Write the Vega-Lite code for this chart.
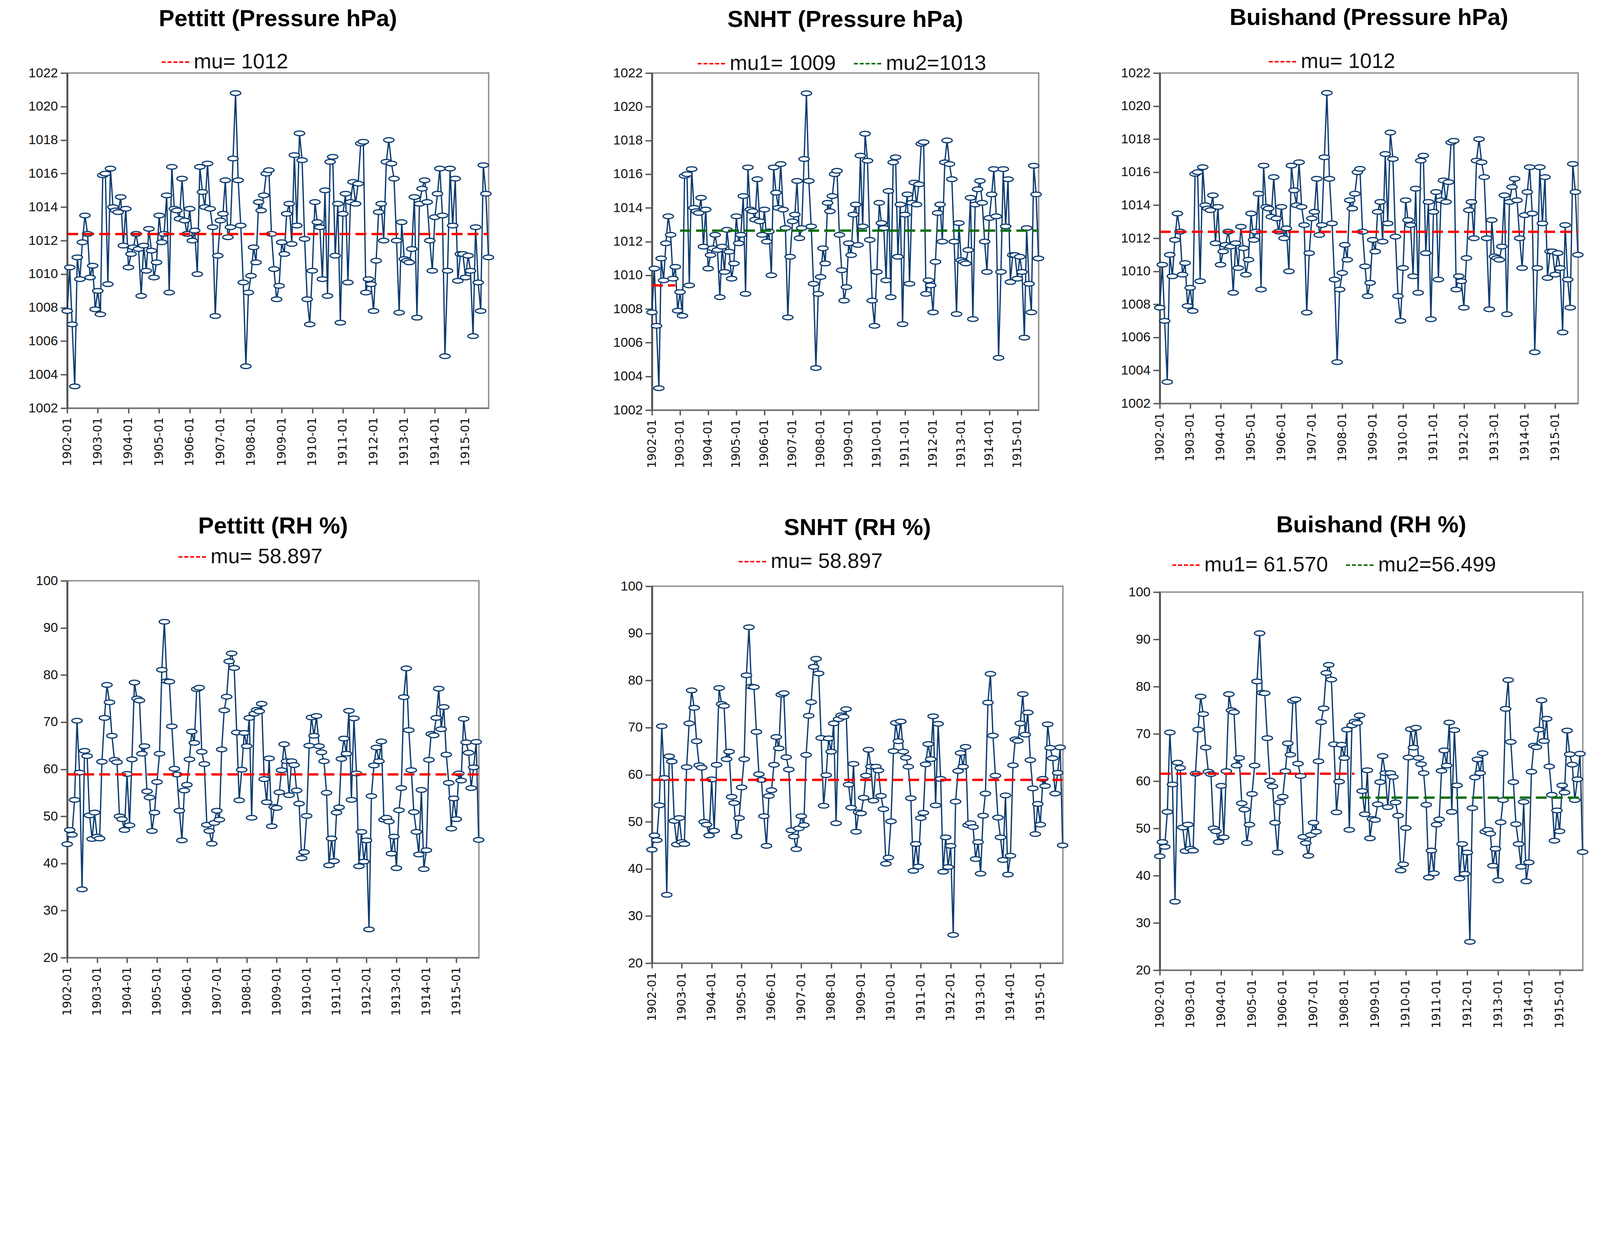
{
"$schema": "https://vega.github.io/schema/vega-lite/v6.json",
"background": "white",
"padding": {"left": 70, "top": 14, "right": 10, "bottom": 5},
"config": {
  "view": {"stroke": "#9a9a9a", "strokeWidth": 4},
  "title": {"font": "Liberation Sans", "fontSize": 60, "fontWeight": "bold", "color": "#000000", "anchor": "middle", "frame": "group"},
  "axisX": {"title": null, "format": "%Y-%m", "formatType": "utc", "tickCount": {"interval": "year", "step": 1}, "labelAngle": -90, "labelAlign": "right", "labelBaseline": "middle", "labelFont": "DejaVu Sans", "labelFontSize": 30, "labelPadding": 10, "labelOverlap": false, "labelFlush": false, "tickSize": 13, "tickWidth": 3.5, "tickColor": "#555555", "domainColor": "#707070", "domainWidth": 3.5, "grid": false, "labelColor": "#111111"},
  "axisY": {"title": null, "format": "d", "labelFont": "Liberation Sans", "labelFontSize": 34, "labelPadding": 7, "tickSize": 17, "tickWidth": 3.5, "tickColor": "#555555", "domainColor": "#555555", "domainWidth": 5, "grid": false, "labelColor": "#111111"},
  "legend": {"orient": "none", "direction": "horizontal", "symbolType": "stroke", "symbolStrokeWidth": 4, "symbolSize": 4900, "labelFont": "Liberation Sans", "labelFontSize": 54, "labelLimit": 3000, "columnPadding": 38, "labelOffset": 10, "labelColor": "#111111"}
},
"datasets": {
  "pres": [
    {"d":"1902-01","v":1007.8},{"d":"1902-02","v":1010.4},{"d":"1902-03","v":1007.0},{"d":"1902-04","v":1003.3},{"d":"1902-05","v":1011.0},{"d":"1902-06","v":1009.7},{"d":"1902-07","v":1011.9},{"d":"1902-08","v":1013.5},{"d":"1902-09","v":1012.4},{"d":"1902-10","v":1009.8},{"d":"1902-11","v":1010.5},{"d":"1902-12","v":1007.9},
    {"d":"1903-01","v":1009.0},{"d":"1903-02","v":1007.6},{"d":"1903-03","v":1015.9},{"d":"1903-04","v":1016.0},{"d":"1903-05","v":1009.4},{"d":"1903-06","v":1016.3},{"d":"1903-07","v":1014.0},{"d":"1903-08","v":1013.8},{"d":"1903-09","v":1013.7},{"d":"1903-10","v":1014.6},{"d":"1903-11","v":1011.7},{"d":"1903-12","v":1013.9},
    {"d":"1904-01","v":1010.4},{"d":"1904-02","v":1011.2},{"d":"1904-03","v":1011.6},{"d":"1904-04","v":1012.4},{"d":"1904-05","v":1011.5},{"d":"1904-06","v":1008.7},{"d":"1904-07","v":1011.7},{"d":"1904-08","v":1010.2},{"d":"1904-09","v":1012.7},{"d":"1904-10","v":1011.4},{"d":"1904-11","v":1009.8},{"d":"1904-12","v":1010.7},
    {"d":"1905-01","v":1013.5},{"d":"1905-02","v":1011.9},{"d":"1905-03","v":1012.4},{"d":"1905-04","v":1014.7},{"d":"1905-05","v":1008.9},{"d":"1905-06","v":1016.4},{"d":"1905-07","v":1013.9},{"d":"1905-08","v":1013.8},{"d":"1905-09","v":1013.3},{"d":"1905-10","v":1015.7},{"d":"1905-11","v":1013.2},{"d":"1905-12","v":1012.4},
    {"d":"1906-01","v":1013.9},{"d":"1906-02","v":1012.0},{"d":"1906-03","v":1012.6},{"d":"1906-04","v":1010.0},{"d":"1906-05","v":1016.4},{"d":"1906-06","v":1014.9},{"d":"1906-07","v":1014.0},{"d":"1906-08","v":1016.6},{"d":"1906-09","v":1013.9},{"d":"1906-10","v":1012.8},{"d":"1906-11","v":1007.5},{"d":"1906-12","v":1011.1},
    {"d":"1907-01","v":1013.2},{"d":"1907-02","v":1013.6},{"d":"1907-03","v":1015.6},{"d":"1907-04","v":1012.2},{"d":"1907-05","v":1012.8},{"d":"1907-06","v":1016.9},{"d":"1907-07","v":1020.8},{"d":"1907-08","v":1015.6},{"d":"1907-09","v":1012.9},{"d":"1907-10","v":1009.5},{"d":"1907-11","v":1004.5},{"d":"1907-12","v":1008.9},
    {"d":"1908-01","v":1009.9},{"d":"1908-02","v":1011.6},{"d":"1908-03","v":1010.7},{"d":"1908-04","v":1014.3},{"d":"1908-05","v":1013.8},{"d":"1908-06","v":1014.7},{"d":"1908-07","v":1016.0},{"d":"1908-08","v":1016.2},{"d":"1908-09","v":1012.4},{"d":"1908-10","v":1010.3},{"d":"1908-11","v":1008.5},{"d":"1908-12","v":1009.3},
    {"d":"1909-01","v":1011.9},{"d":"1909-02","v":1011.2},{"d":"1909-03","v":1013.6},{"d":"1909-04","v":1014.2},{"d":"1909-05","v":1011.8},{"d":"1909-06","v":1017.1},{"d":"1909-07","v":1012.9},{"d":"1909-08","v":1018.4},{"d":"1909-09","v":1016.8},{"d":"1909-10","v":1012.1},{"d":"1909-11","v":1008.5},{"d":"1909-12","v":1007.0},
    {"d":"1910-01","v":1010.2},{"d":"1910-02","v":1014.3},{"d":"1910-03","v":1013.1},{"d":"1910-04","v":1012.8},{"d":"1910-05","v":1009.7},{"d":"1910-06","v":1015.0},{"d":"1910-07","v":1008.7},{"d":"1910-08","v":1016.7},{"d":"1910-09","v":1017.0},{"d":"1910-10","v":1011.1},{"d":"1910-11","v":1014.2},{"d":"1910-12","v":1007.1},
    {"d":"1911-01","v":1013.6},{"d":"1911-02","v":1014.8},{"d":"1911-03","v":1009.5},{"d":"1911-04","v":1014.3},{"d":"1911-05","v":1015.5},{"d":"1911-06","v":1014.2},{"d":"1911-07","v":1015.4},{"d":"1911-08","v":1017.8},{"d":"1911-09","v":1017.9},{"d":"1911-10","v":1008.9},{"d":"1911-11","v":1009.7},{"d":"1911-12","v":1009.4},
    {"d":"1912-01","v":1007.8},{"d":"1912-02","v":1010.8},{"d":"1912-03","v":1013.7},{"d":"1912-04","v":1014.2},{"d":"1912-05","v":1012.0},{"d":"1912-06","v":1016.7},{"d":"1912-07","v":1018.0},{"d":"1912-08","v":1016.6},{"d":"1912-09","v":1015.7},{"d":"1912-10","v":1012.0},{"d":"1912-11","v":1007.7},{"d":"1912-12","v":1013.1},
    {"d":"1913-01","v":1010.9},{"d":"1913-02","v":1010.8},{"d":"1913-03","v":1010.7},{"d":"1913-04","v":1011.5},{"d":"1913-05","v":1014.6},{"d":"1913-06","v":1007.4},{"d":"1913-07","v":1014.2},{"d":"1913-08","v":1015.1},{"d":"1913-09","v":1015.6},{"d":"1913-10","v":1014.3},{"d":"1913-11","v":1012.0},{"d":"1913-12","v":1010.2},
    {"d":"1914-01","v":1013.4},{"d":"1914-02","v":1014.8},{"d":"1914-03","v":1016.3},{"d":"1914-04","v":1013.5},{"d":"1914-05","v":1005.1},{"d":"1914-06","v":1010.2},{"d":"1914-07","v":1016.3},{"d":"1914-08","v":1012.9},{"d":"1914-09","v":1015.7},{"d":"1914-10","v":1009.6},{"d":"1914-11","v":1011.2},{"d":"1914-12","v":1011.2},
    {"d":"1915-01","v":1009.8},{"d":"1915-02","v":1011.1},{"d":"1915-03","v":1010.2},{"d":"1915-04","v":1006.3},{"d":"1915-05","v":1012.8},{"d":"1915-06","v":1009.5},{"d":"1915-07","v":1007.8},{"d":"1915-08","v":1016.5},{"d":"1915-09","v":1014.8},{"d":"1915-10","v":1011.0}
  ],
  "rh": [
    {"d":"1902-01","v":44.1},{"d":"1902-02","v":47.1},{"d":"1902-03","v":46.1},{"d":"1902-04","v":53.5},{"d":"1902-05","v":70.3},{"d":"1902-06","v":59.3},{"d":"1902-07","v":34.5},{"d":"1902-08","v":63.9},{"d":"1902-09","v":62.8},{"d":"1902-10","v":50.2},{"d":"1902-11","v":45.2},{"d":"1902-12","v":50.8},
    {"d":"1903-01","v":45.7},{"d":"1903-02","v":45.3},{"d":"1903-03","v":61.6},{"d":"1903-04","v":70.9},{"d":"1903-05","v":77.9},{"d":"1903-06","v":74.2},{"d":"1903-07","v":67.1},{"d":"1903-08","v":62.0},{"d":"1903-09","v":61.5},{"d":"1903-10","v":50.0},{"d":"1903-11","v":49.4},{"d":"1903-12","v":47.1},
    {"d":"1904-01","v":59.0},{"d":"1904-02","v":48.1},{"d":"1904-03","v":62.1},{"d":"1904-04","v":78.4},{"d":"1904-05","v":75.0},{"d":"1904-06","v":74.6},{"d":"1904-07","v":63.3},{"d":"1904-08","v":64.9},{"d":"1904-09","v":55.3},{"d":"1904-10","v":54.0},{"d":"1904-11","v":46.9},{"d":"1904-12","v":50.8},
    {"d":"1905-01","v":57.3},{"d":"1905-02","v":63.3},{"d":"1905-03","v":81.1},{"d":"1905-04","v":91.3},{"d":"1905-05","v":78.7},{"d":"1905-06","v":78.6},{"d":"1905-07","v":69.1},{"d":"1905-08","v":60.1},{"d":"1905-09","v":58.9},{"d":"1905-10","v":51.2},{"d":"1905-11","v":44.9},{"d":"1905-12","v":55.5},
    {"d":"1906-01","v":56.7},{"d":"1906-02","v":62.1},{"d":"1906-03","v":68.0},{"d":"1906-04","v":65.6},{"d":"1906-05","v":77.0},{"d":"1906-06","v":77.3},{"d":"1906-07","v":63.7},{"d":"1906-08","v":61.1},{"d":"1906-09","v":48.2},{"d":"1906-10","v":46.9},{"d":"1906-11","v":44.2},{"d":"1906-12","v":48.6},
    {"d":"1907-01","v":51.2},{"d":"1907-02","v":49.3},{"d":"1907-03","v":64.2},{"d":"1907-04","v":72.5},{"d":"1907-05","v":75.4},{"d":"1907-06","v":82.9},{"d":"1907-07","v":84.6},{"d":"1907-08","v":81.5},{"d":"1907-09","v":67.8},{"d":"1907-10","v":53.4},{"d":"1907-11","v":59.9},{"d":"1907-12","v":67.7},
    {"d":"1908-01","v":64.9},{"d":"1908-02","v":70.9},{"d":"1908-03","v":49.7},{"d":"1908-04","v":71.8},{"d":"1908-05","v":72.6},{"d":"1908-06","v":72.3},{"d":"1908-07","v":73.9},{"d":"1908-08","v":57.9},{"d":"1908-09","v":53.0},{"d":"1908-10","v":62.3},{"d":"1908-11","v":47.9},{"d":"1908-12","v":52.0},
    {"d":"1909-01","v":51.8},{"d":"1909-02","v":55.1},{"d":"1909-03","v":59.8},{"d":"1909-04","v":65.3},{"d":"1909-05","v":61.7},{"d":"1909-06","v":54.5},{"d":"1909-07","v":61.7},{"d":"1909-08","v":60.9},{"d":"1909-09","v":55.5},{"d":"1909-10","v":52.7},{"d":"1909-11","v":41.1},{"d":"1909-12","v":42.4},
    {"d":"1910-01","v":50.1},{"d":"1910-02","v":65.0},{"d":"1910-03","v":71.0},{"d":"1910-04","v":67.1},{"d":"1910-05","v":71.3},{"d":"1910-06","v":64.9},{"d":"1910-07","v":63.6},{"d":"1910-08","v":61.7},{"d":"1910-09","v":55.0},{"d":"1910-10","v":39.6},{"d":"1910-11","v":45.3},{"d":"1910-12","v":40.5},
    {"d":"1911-01","v":50.8},{"d":"1911-02","v":51.9},{"d":"1911-03","v":62.2},{"d":"1911-04","v":66.5},{"d":"1911-05","v":63.3},{"d":"1911-06","v":72.4},{"d":"1911-07","v":53.5},{"d":"1911-08","v":70.8},{"d":"1911-09","v":59.1},{"d":"1911-10","v":39.4},{"d":"1911-11","v":46.7},{"d":"1911-12","v":40.4},
    {"d":"1912-01","v":44.9},{"d":"1912-02","v":26.0},{"d":"1912-03","v":54.3},{"d":"1912-04","v":60.8},{"d":"1912-05","v":64.6},{"d":"1912-06","v":61.7},{"d":"1912-07","v":65.9},{"d":"1912-08","v":49.3},{"d":"1912-09","v":49.7},{"d":"1912-10","v":48.9},{"d":"1912-11","v":42.1},{"d":"1912-12","v":45.7},
    {"d":"1913-01","v":39.0},{"d":"1913-02","v":51.3},{"d":"1913-03","v":56.0},{"d":"1913-04","v":75.3},{"d":"1913-05","v":81.4},{"d":"1913-06","v":68.3},{"d":"1913-07","v":59.8},{"d":"1913-08","v":50.9},{"d":"1913-09","v":46.7},{"d":"1913-10","v":41.9},{"d":"1913-11","v":55.6},{"d":"1913-12","v":38.8},
    {"d":"1914-01","v":42.8},{"d":"1914-02","v":62.0},{"d":"1914-03","v":67.5},{"d":"1914-04","v":67.2},{"d":"1914-05","v":70.9},{"d":"1914-06","v":77.1},{"d":"1914-07","v":68.5},{"d":"1914-08","v":73.2},{"d":"1914-09","v":63.1},{"d":"1914-10","v":57.1},{"d":"1914-11","v":47.4},{"d":"1914-12","v":53.8},
    {"d":"1915-01","v":49.4},{"d":"1915-02","v":59.1},{"d":"1915-03","v":57.6},{"d":"1915-04","v":70.7},{"d":"1915-05","v":65.7},{"d":"1915-06","v":63.5},{"d":"1915-07","v":56.0},{"d":"1915-08","v":60.4},{"d":"1915-09","v":65.8},{"d":"1915-10","v":45.0}
  ],
  "mp1": [{"d":"1902-01","d2":"1915-10","v":1012.39,"lab":"mu= 1012"}],
  "mp2": [{"d":"1902-01","d2":"1902-11","v":1009.4,"lab":"mu1= 1009"},{"d":"1903-01","d2":"1915-10","v":1012.65,"lab":"mu2=1013"}],
  "mp3": [{"d":"1902-01","d2":"1915-10","v":1012.39,"lab":"mu= 1012"}],
  "mr1": [{"d":"1902-01","d2":"1915-10","v":58.897,"lab":"mu= 58.897"}],
  "mr2": [{"d":"1902-01","d2":"1915-10","v":58.897,"lab":"mu= 58.897"}],
  "mr3": [{"d":"1902-01","d2":"1908-05","v":61.57,"lab":"mu1= 61.570"},{"d":"1908-07","d2":"1915-10","v":56.499,"lab":"mu2=56.499"}]
},
"spacing": 295,
"resolve": {"scale": {"color": "independent", "x": "independent", "y": "independent"}, "legend": {"color": "independent"}},
"hconcat": [
  {
    "spacing": 442, "bounds": "flush",
    "resolve": {"scale": {"color": "independent", "x": "independent", "y": "independent"}, "legend": {"color": "independent"}},
    "vconcat": [
      {
        "width": 1079, "height": 858,
        "title": {"text": "Pettitt (Pressure hPa)", "offset": 42},
        "encoding": {
          "x": {"field": "d", "type": "temporal", "scale": {"type": "utc", "domain": [{"year": 1902, "month": 1, "date": 1, "utc": true}, {"year": 1915, "month": 10, "date": 4, "utc": true}], "nice": false}},
          "y": {"field": "v", "type": "quantitative", "scale": {"domain": [1002, 1022], "nice": false, "zero": false}, "axis": {"values": [1002,1004,1006,1008,1010,1012,1014,1016,1018,1020,1022]}}
        },
        "layer": [
          {"data": {"name": "pres"}, "mark": {"type": "line", "color": "#0B3B6F", "strokeWidth": 3.3}},
          {"data": {"name": "pres"}, "mark": {"type": "point", "shape": "M-1,0A1,0.45,0,1,1,1,0A1,0.45,0,1,1,-1,0Z", "size": 711, "filled": true, "color": "#0B3B6F", "fill": "white", "stroke": "#0B3B6F", "strokeWidth": 3, "opacity": 1}},
          {"data": {"name": "mp1"}, "mark": {"type": "rule", "strokeDash": [28, 13], "strokeWidth": 6},
           "encoding": {"x2": {"field": "d2"}, "color": {"field": "lab", "type": "nominal", "scale": {"domain": ["mu= 1012"], "range": ["#FF0000"]}, "legend": {"title": null, "orient": "none", "legendX": 240, "legendY": -65, "symbolDash": [10, 5]}}}}
        ]
      },
      {
        "width": 1054, "height": 965,
        "title": {"text": "Pettitt (RH %)", "offset": 10},
        "encoding": {
          "x": {"field": "d", "type": "temporal", "scale": {"type": "utc", "domain": [{"year": 1902, "month": 1, "date": 1, "utc": true}, {"year": 1915, "month": 10, "date": 4, "utc": true}], "nice": false}},
          "y": {"field": "v", "type": "quantitative", "scale": {"domain": [20, 100], "nice": false, "zero": false}, "axis": {"values": [20,30,40,50,60,70,80,90,100]}}
        },
        "layer": [
          {"data": {"name": "rh"}, "mark": {"type": "line", "color": "#0B3B6F", "strokeWidth": 3.3}},
          {"data": {"name": "rh"}, "mark": {"type": "point", "shape": "M-1,0A1,0.45,0,1,1,1,0A1,0.45,0,1,1,-1,0Z", "size": 711, "filled": true, "color": "#0B3B6F", "fill": "white", "stroke": "#0B3B6F", "strokeWidth": 3, "opacity": 1}},
          {"data": {"name": "mr1"}, "mark": {"type": "rule", "strokeDash": [28, 13], "strokeWidth": 6},
           "encoding": {"x2": {"field": "d2"}, "color": {"field": "lab", "type": "nominal", "scale": {"domain": ["mu= 58.897"], "range": ["#FF0000"]}, "legend": {"title": null, "orient": "none", "legendX": 283, "legendY": -98, "symbolDash": [10, 5]}}}}
        ]
      }
    ]
  },
  {
    "spacing": 125,
    "resolve": {"scale": {"color": "independent", "x": "independent", "y": "independent"}, "legend": {"color": "independent"}},
    "hconcat": [
      {
        "spacing": 451, "bounds": "flush",
        "resolve": {"scale": {"color": "independent", "x": "independent", "y": "independent"}, "legend": {"color": "independent"}},
        "vconcat": [
          {
            "width": 990, "height": 863,
            "title": {"text": "SNHT (Pressure hPa)", "offset": 44},
            "encoding": {
              "x": {"field": "d", "type": "temporal", "scale": {"type": "utc", "domain": [{"year": 1902, "month": 1, "date": 1, "utc": true}, {"year": 1915, "month": 10, "date": 4, "utc": true}], "nice": false}},
              "y": {"field": "v", "type": "quantitative", "scale": {"domain": [1002, 1022], "nice": false, "zero": false}, "axis": {"values": [1002,1004,1006,1008,1010,1012,1014,1016,1018,1020,1022]}}
            },
            "layer": [
              {"data": {"name": "pres"}, "mark": {"type": "line", "color": "#0B3B6F", "strokeWidth": 3.3}},
              {"data": {"name": "pres"}, "mark": {"type": "point", "shape": "M-1,0A1,0.45,0,1,1,1,0A1,0.45,0,1,1,-1,0Z", "size": 711, "filled": true, "color": "#0B3B6F", "fill": "white", "stroke": "#0B3B6F", "strokeWidth": 3, "opacity": 1}},
              {"data": {"name": "mp2"}, "mark": {"type": "rule", "strokeDash": [28, 13], "strokeWidth": 6},
               "encoding": {"x2": {"field": "d2"}, "color": {"field": "lab", "type": "nominal", "scale": {"domain": ["mu1= 1009", "mu2=1013"], "range": ["#FF0000", "#0A6E0A"]}, "legend": {"title": null, "orient": "none", "legendX": 115, "legendY": -61, "symbolDash": [10, 5]}}}}
            ]
          },
          {
            "width": 1052, "height": 965,
            "title": {"text": "SNHT (RH %)", "offset": 18},
            "encoding": {
              "x": {"field": "d", "type": "temporal", "scale": {"type": "utc", "domain": [{"year": 1902, "month": 1, "date": 1, "utc": true}, {"year": 1915, "month": 10, "date": 4, "utc": true}], "nice": false}},
              "y": {"field": "v", "type": "quantitative", "scale": {"domain": [20, 100], "nice": false, "zero": false}, "axis": {"values": [20,30,40,50,60,70,80,90,100]}}
            },
            "layer": [
              {"data": {"name": "rh"}, "mark": {"type": "line", "color": "#0B3B6F", "strokeWidth": 3.3}},
              {"data": {"name": "rh"}, "mark": {"type": "point", "shape": "M-1,0A1,0.45,0,1,1,1,0A1,0.45,0,1,1,-1,0Z", "size": 711, "filled": true, "color": "#0B3B6F", "fill": "white", "stroke": "#0B3B6F", "strokeWidth": 3, "opacity": 1}},
              {"data": {"name": "mr2"}, "mark": {"type": "rule", "strokeDash": [28, 13], "strokeWidth": 6},
               "encoding": {"x2": {"field": "d2"}, "color": {"field": "lab", "type": "nominal", "scale": {"domain": ["mu= 58.897"], "range": ["#FF0000"]}, "legend": {"title": null, "orient": "none", "legendX": 220, "legendY": -100, "symbolDash": [10, 5]}}}}
            ]
          }
        ]
      },
      {
        "spacing": 483, "bounds": "flush",
        "resolve": {"scale": {"color": "independent", "x": "independent", "y": "independent"}, "legend": {"color": "independent"}},
        "vconcat": [
          {
            "width": 1071, "height": 846,
            "title": {"text": "Buishand (Pressure hPa)", "offset": 44},
            "encoding": {
              "x": {"field": "d", "type": "temporal", "scale": {"type": "utc", "domain": [{"year": 1902, "month": 1, "date": 1, "utc": true}, {"year": 1915, "month": 10, "date": 4, "utc": true}], "nice": false}},
              "y": {"field": "v", "type": "quantitative", "scale": {"domain": [1002, 1022], "nice": false, "zero": false}, "axis": {"values": [1002,1004,1006,1008,1010,1012,1014,1016,1018,1020,1022]}}
            },
            "layer": [
              {"data": {"name": "pres"}, "mark": {"type": "line", "color": "#0B3B6F", "strokeWidth": 3.3}},
              {"data": {"name": "pres"}, "mark": {"type": "point", "shape": "M-1,0A1,0.45,0,1,1,1,0A1,0.45,0,1,1,-1,0Z", "size": 711, "filled": true, "color": "#0B3B6F", "fill": "white", "stroke": "#0B3B6F", "strokeWidth": 3, "opacity": 1}},
              {"data": {"name": "mp3"}, "mark": {"type": "rule", "strokeDash": [28, 13], "strokeWidth": 6},
               "encoding": {"x2": {"field": "d2"}, "color": {"field": "lab", "type": "nominal", "scale": {"domain": ["mu= 1012"], "range": ["#FF0000"]}, "legend": {"title": null, "orient": "none", "legendX": 277, "legendY": -66, "symbolDash": [10, 5]}}}}
            ]
          },
          {
            "width": 1083, "height": 968,
            "title": {"text": "Buishand (RH %)", "offset": 34},
            "encoding": {
              "x": {"field": "d", "type": "temporal", "scale": {"type": "utc", "domain": [{"year": 1902, "month": 1, "date": 1, "utc": true}, {"year": 1915, "month": 10, "date": 4, "utc": true}], "nice": false}},
              "y": {"field": "v", "type": "quantitative", "scale": {"domain": [20, 100], "nice": false, "zero": false}, "axis": {"values": [20,30,40,50,60,70,80,90,100]}}
            },
            "layer": [
              {"data": {"name": "rh"}, "mark": {"type": "line", "color": "#0B3B6F", "strokeWidth": 3.3}},
              {"data": {"name": "rh"}, "mark": {"type": "point", "shape": "M-1,0A1,0.45,0,1,1,1,0A1,0.45,0,1,1,-1,0Z", "size": 711, "filled": true, "color": "#0B3B6F", "fill": "white", "stroke": "#0B3B6F", "strokeWidth": 3, "opacity": 1}},
              {"data": {"name": "mr3"}, "mark": {"type": "rule", "strokeDash": [28, 13], "strokeWidth": 6},
               "encoding": {"x2": {"field": "d2"}, "color": {"field": "lab", "type": "nominal", "scale": {"domain": ["mu1= 61.570", "mu2=56.499"], "range": ["#FF0000", "#0A6E0A"]}, "legend": {"title": null, "orient": "none", "legendX": 30, "legendY": -106, "symbolDash": [10, 5]}}}}
            ]
          }
        ]
      }
    ]
  }
]
}
